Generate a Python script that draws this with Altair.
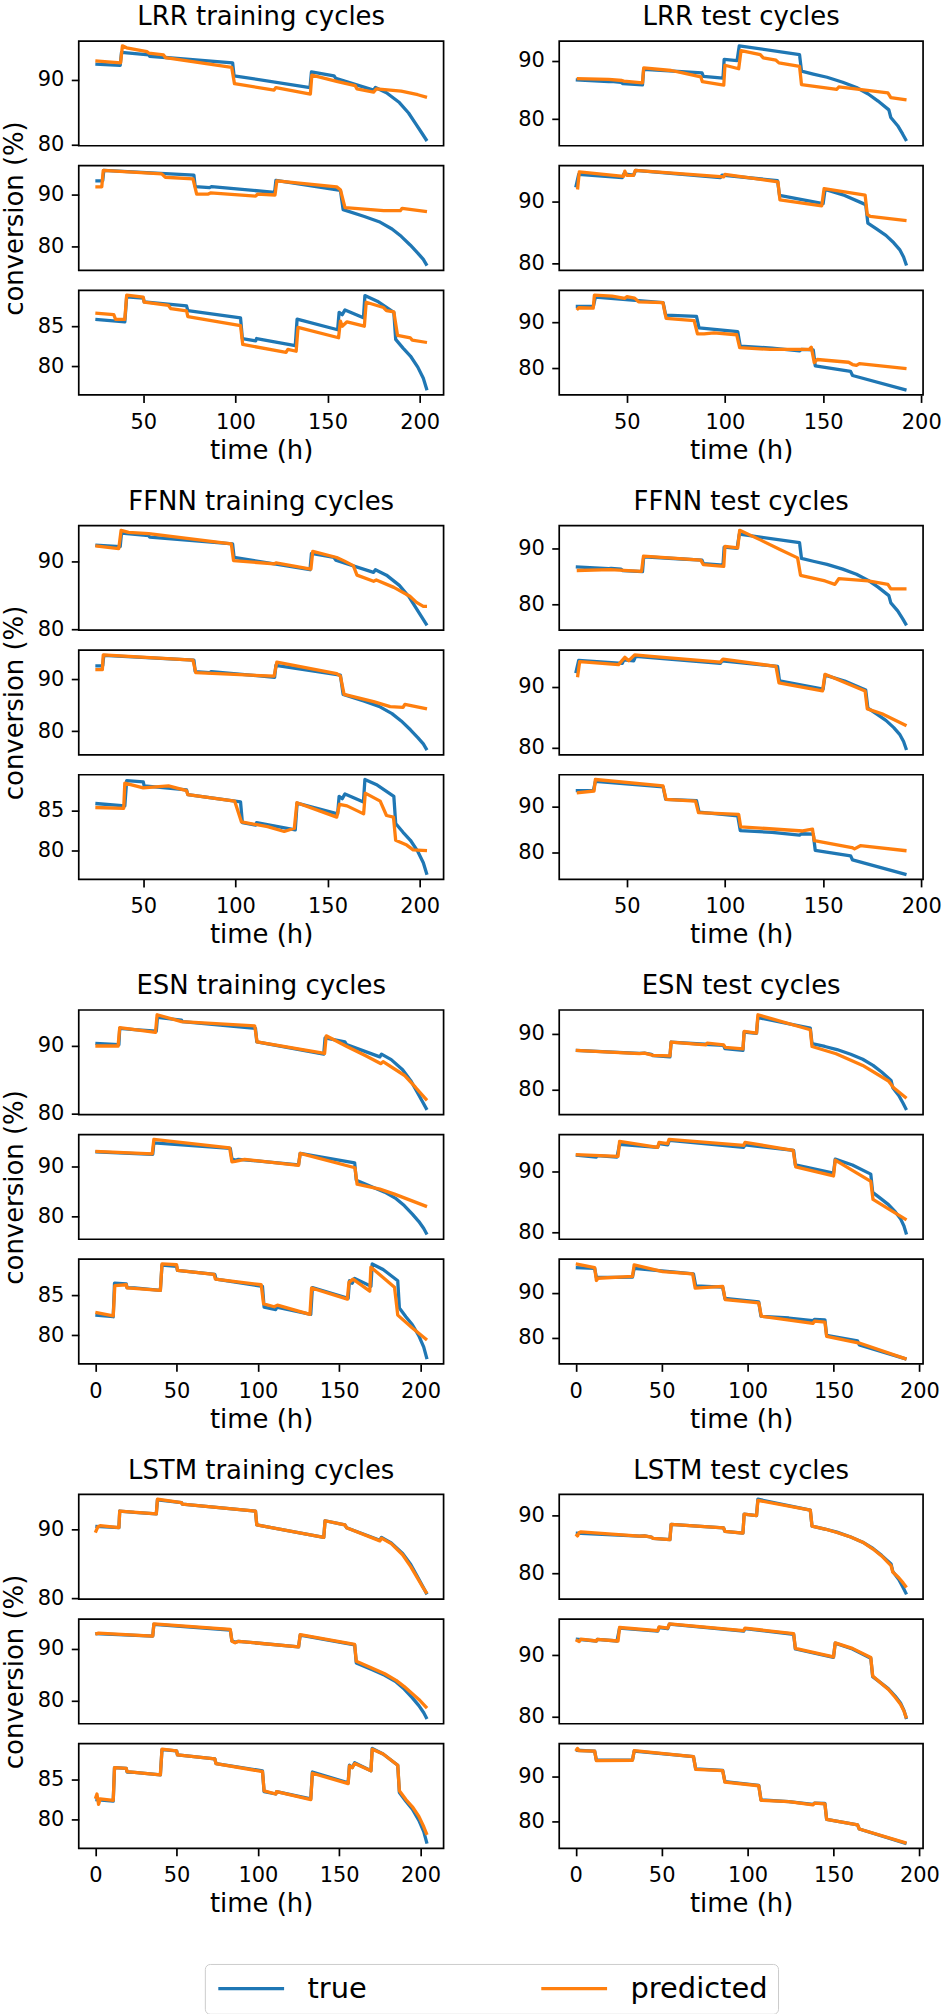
import altair as alt
import pandas as pd

BLUE = "#1f77b4"
ORANGE = "#ff7f0e"
FONT = "DejaVu Sans"

# ---------------- true conversion curves (time h, conversion %) ----------------
train1_true_t = [0, 14.5, 15, 24, 37.5, 38.2, 53, 53.5, 98.5, 99.3, 140.5, 141.3, 153.5, 154.5, 175, 176, 182, 189, 194, 198, 201, 204]
train1_true_v = [90.4, 90.2, 92.6, 92.4, 92.2, 94.2, 93.8, 93.6, 92.6, 90.6, 88.8, 91.2, 90.6, 90.2, 88.4, 88.8, 88.0, 86.5, 84.9, 83.2, 81.9, 80.6]

train2_true_t = [0, 35.3, 36, 83, 84, 86, 88, 125, 126, 159.5, 160.5, 170, 178, 185, 190, 195, 199, 202, 204]
train2_true_v = [93.0, 92.5, 94.8, 93.7, 91.6, 91.3, 91.5, 90.4, 92.7, 90.8, 87.3, 86.0, 84.9, 83.6, 82.2, 80.5, 79.0, 77.6, 76.4]

train2_true_late_t = [24, 28, 28.6, 77.5, 78.2, 86, 87, 121.3, 122, 157, 158.5, 170, 178, 185, 190, 195, 199, 202, 204]
train2_true_late_v = [92.6, 92.6, 94.6, 93.7, 91.5, 91.3, 91.5, 90.4, 92.7, 90.8, 87.1, 85.8, 84.8, 83.4, 82.0, 80.3, 78.8, 77.6, 76.4]

train3_true_t = [0, 11, 11.8, 19, 19.5, 24, 40, 41, 50, 50.5, 73.5, 74.2, 102.8, 103.8, 111, 111.5, 132.5, 133.5, 155.5, 156.3, 158, 159.5, 169.5, 170.3, 177, 186, 187, 191, 195, 199, 202, 204]
train3_true_v = [82.5, 82.3, 86.5, 86.4, 85.95, 85.9, 85.6, 88.75, 88.6, 88.1, 87.6, 87.0, 86.1, 83.5, 83.2, 83.5, 82.6, 85.95, 84.6, 86.8, 86.5, 87.1, 86.1, 88.9, 88.2, 86.8, 83.4, 82.3, 81.3, 79.9, 78.5, 77.0]

test1_true_t = [0, 37, 40, 44, 45, 54.8, 55.5, 75, 86, 86.8, 97.3, 98, 105.2, 106, 136.5, 137.5, 145, 152, 160, 167, 173, 178, 183.5, 184.5, 188, 190.5, 192.5]
test1_true_v = [87.0, 86.45, 86.5, 86.3, 86.05, 85.85, 88.5, 88.1, 87.9, 87.3, 87.0, 90.3, 90.05, 92.9, 91.0, 88.2, 87.7, 87.15, 86.3, 85.4, 84.3, 83.1, 81.6, 80.3, 78.9, 77.5, 76.3]

test1_true_late_t = [24, 40.8, 42, 47, 48, 58, 58.6, 78, 88.3, 89, 99, 99.6, 106.2, 107.3, 138, 139, 145, 152, 160, 167, 173, 178, 183.5, 184.5, 188, 190.5, 192.5]
test1_true_late_v = [86.7, 86.4, 86.45, 86.3, 86.05, 85.85, 88.5, 88.1, 87.9, 87.3, 87.0, 90.2, 90.0, 92.5, 91.0, 88.2, 87.7, 87.15, 86.3, 85.4, 84.3, 83.1, 81.6, 80.3, 78.9, 77.5, 76.3]

test2_true_t = [0, 12, 12.5, 24, 25.5, 47.7, 48.5, 53.5, 54.5, 97.7, 98.5, 126.8, 127.8, 150, 151, 161, 171.7, 172.8, 177, 182, 186, 189, 191, 192.5]
test2_true_v = [92.6, 92.3, 92.55, 92.3, 94.4, 93.9, 94.5, 94.3, 95.05, 93.9, 94.3, 93.4, 91.0, 89.65, 91.95, 91.0, 89.5, 86.5, 85.6, 84.5, 83.3, 82.2, 81.0, 79.6]

test3_true_t = [0, 11, 12, 24, 33, 34, 68.5, 69.8, 85.5, 86.8, 106.5, 107.8, 124, 138, 139, 145, 146, 164, 165, 192.5]
test3_true_v = [95.7, 95.5, 93.5, 93.5, 93.55, 95.5, 94.3, 91.6, 91.3, 88.8, 88.0, 84.8, 84.4, 83.8, 84.1, 84.0, 80.5, 79.3, 78.4, 75.2]

# ---------------- predicted curves ----------------
lrr_train1_t = [24, 37.7, 38.7, 41, 52, 53, 61, 62, 98, 99.5, 121, 122, 140.7, 141.5, 155.5, 165, 166, 175, 176.5, 190, 199, 204]
lrr_train1_v = [92.9, 92.6, 95.2, 94.9, 94.3, 94.1, 93.8, 93.4, 91.9, 89.4, 88.4, 88.8, 87.8, 90.7, 89.7, 89.1, 88.6, 88.1, 88.6, 88.25, 87.7, 87.3]
lrr_train2_t = [24, 27.5, 28.3, 60, 62, 77, 79, 85, 86.5, 111, 112, 121.5, 122.5, 155, 157, 159.5, 170, 180.5, 189.5, 190.5, 204]
lrr_train2_v = [91.45, 91.45, 94.6, 93.95, 93.3, 93.0, 90.05, 90.05, 90.3, 89.7, 90.05, 89.9, 92.6, 91.45, 90.9, 87.5, 87.2, 86.9, 86.9, 87.35, 86.7]
lrr_train3_t = [24, 34, 35, 40, 41, 50, 50.5, 63.7, 65, 73.5, 74.2, 102.8, 104, 127.5, 128.5, 133, 134, 156, 157, 158, 160.6, 170, 171, 180.4, 182, 186, 188, 195, 196, 204]
lrr_train3_v = [86.7, 86.5, 85.9, 85.9, 88.97, 88.7, 88.07, 87.66, 87.25, 86.97, 86.27, 85.12, 82.75, 81.76, 82.13, 81.9, 84.9, 83.6, 85.7, 85.05, 85.6, 85.05, 88.07, 87.4, 87.0, 86.85, 83.9, 83.57, 83.3, 83.0]
lrr_test1_t = [24.5, 40.8, 47.5, 48.5, 58, 58.6, 72.6, 78.5, 87.7, 88.5, 99.4, 100, 107, 108.2, 118, 119.5, 126, 127.5, 138, 139, 157, 158, 183, 184.5, 192.5]
lrr_test1_v = [86.9, 86.8, 86.6, 86.5, 86.2, 88.75, 88.3, 87.9, 87.2, 86.4, 85.8, 89.2, 88.6, 91.7, 91.0, 90.45, 90.05, 89.6, 89.0, 85.9, 85.1, 85.5, 84.5, 83.7, 83.3]
lrr_test2_t = [24.9, 25.8, 48.3, 49, 50, 53.4, 54.3, 99.4, 100, 127, 128, 149.3, 150.5, 171.4, 172.5, 174, 192.5]
lrr_test2_v = [91.95, 94.8, 94.1, 94.95, 94.25, 94.25, 95.05, 94.0, 94.4, 93.2, 90.27, 89.3, 92.1, 91.06, 87.9, 87.6, 86.9]
lrr_test3_t = [24.5, 25.5, 32.9, 33.5, 42.5, 49, 50, 54, 56, 68.4, 70, 84.3, 86, 89.4, 94.4, 106, 107.5, 123, 143, 144, 145.5, 147, 163, 165, 167, 168.5, 192.5]
lrr_test3_v = [92.7, 93.2, 93.1, 95.97, 95.75, 95.25, 95.6, 95.3, 94.5, 94.3, 90.9, 90.4, 87.5, 87.5, 87.7, 87.3, 84.5, 84.1, 84.1, 84.6, 81.2, 81.9, 81.3, 80.8, 80.6, 81.0, 79.9]

ffnn_train1_t = [24, 36.7, 38, 42, 53, 97.8, 99, 121, 122, 141, 142, 155, 159, 164, 166, 175, 176.5, 186, 194.7, 198.3, 202, 204]
ffnn_train1_v = [92.3, 91.9, 94.6, 94.3, 94.1, 92.6, 90.15, 89.65, 89.8, 88.9, 91.5, 90.6, 90.1, 89.4, 88.0, 87.1, 87.3, 86.2, 84.9, 84.0, 83.4, 83.4]
ffnn_train2_t = [24, 27.8, 28.3, 77, 78.5, 121, 122.5, 155, 157, 159, 175, 184, 191, 192, 204]
ffnn_train2_v = [91.85, 91.85, 94.7, 93.7, 91.3, 90.6, 93.3, 91.1, 90.6, 87.1, 85.7, 84.75, 84.6, 85.2, 84.3]
ffnn_train3_t = [24, 39.4, 40, 50, 63.7, 73.5, 74.2, 99.6, 103.3, 117.5, 126.5, 132, 133.4, 155, 156.5, 160.6, 169.6, 170.5, 178.6, 182, 185.8, 187, 193, 196.5, 204]
ffnn_train3_v = [85.4, 85.3, 88.45, 87.85, 88.1, 87.5, 87.0, 86.2, 83.6, 83.0, 82.4, 82.8, 86.0, 84.2, 85.8, 85.6, 84.6, 87.2, 86.2, 84.4, 84.2, 81.3, 80.7, 80.1, 80.0]
ffnn_test1_t = [24.5, 41.6, 57.5, 58.5, 87.7, 89, 99.4, 100, 106.5, 107.5, 118, 128, 137, 138.5, 151, 156, 158, 173, 183, 184.5, 192.5]
ffnn_test1_v = [86.06, 86.2, 85.9, 88.6, 87.9, 87.1, 86.8, 90.35, 90.06, 93.2, 91.5, 89.8, 88.3, 85.2, 84.2, 83.6, 84.6, 84.2, 83.6, 82.8, 82.8]
ffnn_test2_t = [24.9, 26, 45.8, 49, 51, 54, 62.5, 97.7, 99, 126, 127.5, 149.7, 151, 171.4, 172.5, 180, 192.5]
ffnn_test2_v = [91.6, 94.2, 93.7, 94.9, 94.35, 95.3, 95.05, 94.1, 94.6, 93.4, 90.7, 89.35, 92.1, 89.35, 86.4, 85.6, 83.6]
ffnn_test3_t = [24.5, 33.3, 34, 68.4, 70, 85, 86.5, 107, 108, 139.6, 144.6, 145.5, 164.7, 166, 169, 192.5]
ffnn_test3_v = [93.0, 93.4, 95.9, 94.5, 91.6, 91.2, 88.7, 88.3, 85.6, 84.7, 85.1, 82.6, 81.1, 80.8, 81.5, 80.4]

esn_train1_t = [0, 14, 15, 37, 38, 53, 98, 99.5, 141, 142, 155, 166, 175.7, 177, 190, 197, 204]
esn_train1_v = [90.0, 90.0, 92.7, 92.0, 94.6, 93.6, 92.97, 90.6, 88.9, 91.5, 89.9, 88.6, 87.4, 87.7, 85.7, 83.9, 82.0]
esn_train2_t = [0, 35, 36, 82.6, 84, 86, 91.8, 125, 126, 159.7, 161, 175, 184, 204]
esn_train2_v = [93.1, 92.6, 95.5, 93.8, 91.0, 91.1, 91.5, 90.3, 92.7, 89.8, 86.5, 85.5, 84.5, 82.0]
esn_train3_t = [0, 11, 12, 19, 19.5, 40, 41, 50, 50.5, 73, 73.8, 102, 103.5, 110, 112, 132, 133, 155, 156, 158.5, 168.8, 169.5, 184, 186, 195, 204]
esn_train3_v = [82.85, 82.4, 86.2, 86.3, 85.9, 85.6, 88.9, 88.8, 88.1, 87.6, 87.0, 86.3, 83.9, 83.55, 83.75, 82.6, 85.9, 84.5, 86.6, 87.0, 85.5, 88.5, 86.0, 82.5, 80.9, 79.4]
esn_test1_t = [0, 37, 40, 45, 54.8, 55.5, 75.6, 76.5, 86, 87, 97.3, 98, 105.2, 106, 136.5, 137.5, 151.5, 167, 182, 185, 192.5]
esn_test1_v = [87.0, 86.4, 86.5, 86.1, 86.0, 88.5, 88.0, 88.3, 88.0, 87.55, 87.26, 90.4, 90.1, 93.4, 90.7, 87.7, 86.4, 84.3, 81.5, 80.3, 78.4]
esn_test2_t = [0, 24.6, 25.5, 47.7, 48.5, 53.5, 54.3, 97.7, 98.5, 126.5, 128, 150, 151, 171.7, 173, 182, 192.5]
esn_test2_v = [92.7, 92.4, 94.85, 93.9, 94.7, 94.5, 95.2, 94.2, 94.7, 93.4, 90.7, 89.2, 91.8, 88.3, 85.35, 83.8, 82.0]
esn_test3_t = [0, 11, 12, 13, 33, 34, 50.6, 68, 69.5, 85.5, 87, 106.5, 108, 138, 139, 145, 146, 165, 192.5]
esn_test3_v = [96.5, 95.7, 92.8, 93.3, 93.7, 96.3, 94.8, 94.3, 91.1, 91.5, 88.5, 87.8, 84.8, 83.2, 83.7, 83.5, 80.3, 78.8, 75.2]

lstm_train1_t = [0, 1.5, 3, 14.5, 15, 37.5, 38.2, 53, 53.5, 98.5, 99.3, 140.5, 141.3, 153.5, 154.5, 175, 176, 182, 189, 194, 198, 201, 204]
lstm_train1_v = [89.5, 90.3, 90.5, 90.2, 92.6, 92.2, 94.3, 93.8, 93.6, 92.6, 90.6, 88.8, 91.2, 90.6, 90.2, 88.3, 88.7, 87.9, 86.3, 84.6, 83.0, 81.8, 80.7]
lstm_train2_t = [0, 2, 35.3, 36, 83, 84, 86, 88, 125, 126, 159.5, 160.5, 170, 178, 185, 190, 195, 199, 202, 204]
lstm_train2_v = [92.9, 93.1, 92.5, 94.9, 93.8, 91.5, 91.2, 91.5, 90.4, 92.8, 90.9, 87.6, 86.3, 85.2, 83.9, 82.7, 81.3, 80.2, 79.2, 78.5]
lstm_train3_t = [0, 1, 2, 3, 11, 11.8, 19, 19.5, 40, 41, 50, 50.5, 73.5, 74.2, 102.8, 103.8, 111, 111.5, 132.5, 133.5, 155.5, 156.3, 158, 159.5, 169.5, 170.3, 177, 186, 187, 191, 195, 199, 202, 204]
lstm_train3_v = [82.6, 83.2, 81.9, 82.6, 82.4, 86.5, 86.4, 86.0, 85.6, 88.8, 88.6, 88.1, 87.6, 87.0, 86.0, 83.6, 83.2, 83.5, 82.5, 85.8, 84.5, 86.7, 86.5, 87.0, 86.1, 88.8, 88.2, 86.8, 83.6, 82.5, 81.6, 80.4, 79.1, 78.1]
lstm_test1_t = [0, 1, 2, 3, 37, 40, 44, 45, 54.8, 55.5, 75, 86, 86.8, 97.3, 98, 105.2, 106, 136.5, 137.5, 145, 152, 160, 167, 173, 178, 183.5, 184.5, 188, 190.5, 192.5]
lstm_test1_v = [86.8, 86.5, 87.1, 87.2, 86.45, 86.5, 86.3, 86.05, 85.85, 88.5, 88.1, 87.9, 87.3, 87.0, 90.3, 90.05, 92.7, 91.0, 88.2, 87.7, 87.1, 86.3, 85.4, 84.2, 83.0, 81.3, 80.2, 79.2, 78.3, 77.5]
lstm_test2_t = [0, 2, 3, 12, 12.5, 24.6, 25.5, 47.7, 48.5, 53.5, 54.5, 97.7, 98.5, 126.8, 127.8, 150, 151, 161, 171.7, 172.8, 177, 182, 186, 189, 191, 192.5]
lstm_test2_v = [92.5, 92.2, 92.6, 92.3, 92.55, 92.3, 94.5, 94.0, 94.6, 94.4, 95.1, 94.0, 94.4, 93.5, 91.1, 89.7, 92.0, 91.1, 89.6, 86.6, 85.6, 84.4, 83.1, 82.0, 80.9, 79.7]
lstm_test3_t = [0, 1, 2, 11, 12, 33, 34, 68.5, 69.8, 85.5, 86.8, 106.5, 107.8, 124, 138, 139, 145, 146, 164, 165, 192.5]
lstm_test3_v = [95.5, 96.1, 95.6, 95.5, 93.4, 93.5, 95.6, 94.3, 91.5, 91.2, 88.7, 87.9, 84.7, 84.4, 83.7, 84.1, 83.9, 80.5, 79.3, 78.4, 75.3]

# ---------------- labels / ticks ----------------
models = ["LRR", "FFNN", "ESN", "LSTM"]
series_names = ["true", "predicted"]
late_start = 24  # LRR / FFNN predictions begin after the input window
yticks_train = [[80, 90], [80, 90], [80, 85]]
yticks_test = [[80, 90], [80, 90], [80, 90]]
xticks_late = [50, 100, 150, 200]
xticks_full = [0, 50, 100, 150, 200]

pred = {
    ("LRR", "train"): [(lrr_train1_t, lrr_train1_v), (lrr_train2_t, lrr_train2_v), (lrr_train3_t, lrr_train3_v)],
    ("LRR", "test"): [(lrr_test1_t, lrr_test1_v), (lrr_test2_t, lrr_test2_v), (lrr_test3_t, lrr_test3_v)],
    ("FFNN", "train"): [(ffnn_train1_t, ffnn_train1_v), (ffnn_train2_t, ffnn_train2_v), (ffnn_train3_t, ffnn_train3_v)],
    ("FFNN", "test"): [(ffnn_test1_t, ffnn_test1_v), (ffnn_test2_t, ffnn_test2_v), (ffnn_test3_t, ffnn_test3_v)],
    ("ESN", "train"): [(esn_train1_t, esn_train1_v), (esn_train2_t, esn_train2_v), (esn_train3_t, esn_train3_v)],
    ("ESN", "test"): [(esn_test1_t, esn_test1_v), (esn_test2_t, esn_test2_v), (esn_test3_t, esn_test3_v)],
    ("LSTM", "train"): [(lstm_train1_t, lstm_train1_v), (lstm_train2_t, lstm_train2_v), (lstm_train3_t, lstm_train3_v)],
    ("LSTM", "test"): [(lstm_test1_t, lstm_test1_v), (lstm_test2_t, lstm_test2_v), (lstm_test3_t, lstm_test3_v)],
}
true_full = {
    "train": [(train1_true_t, train1_true_v), (train2_true_t, train2_true_v), (train3_true_t, train3_true_v)],
    "test": [(test1_true_t, test1_true_v), (test2_true_t, test2_true_v), (test3_true_t, test3_true_v)],
}
true_late = {
    "train": [(train1_true_t, train1_true_v), (train2_true_late_t, train2_true_late_v), (train3_true_t, train3_true_v)],
    "test": [(test1_true_late_t, test1_true_late_v), (test2_true_t, test2_true_v), (test3_true_t, test3_true_v)],
}

LEFT_W, RIGHT_W, PANEL_H = 366, 365, 105

legend = alt.Legend(
    orient="none", legendX=126.5, legendY=1929, direction="horizontal", columns=2,
    title=None, symbolType="M-1,0H5", symbolSize=484, symbolStrokeWidth=3.3,
    labelFontSize=29, labelFont=FONT, labelColor="black", labelOffset=64,
    columnPadding=167, padding=10, strokeColor="#cccccc", fillColor="white",
    cornerRadius=5, labelLimit=400,
)
color = alt.Color(
    "series:N",
    scale=alt.Scale(domain=series_names, range=[BLUE, ORANGE]),
    legend=legend,
)


def panel(tt, tv, pt, pv, yticks, xticks, width, title=None, bottom=False, ylabel=False):
    df = pd.DataFrame({
        "t": list(tt) + list(pt),
        "v": list(tv) + list(pv),
        "series": ["true"] * len(tt) + ["predicted"] * len(pt),
        "i": list(range(len(tt))) + list(range(len(pt))),
    })
    tmin, tmax = df["t"].min(), df["t"].max()
    vmin, vmax = df["v"].min(), df["v"].max()
    tp, vp = 0.05 * (tmax - tmin), 0.05 * (vmax - vmin)
    if bottom:
        xaxis = alt.Axis(values=xticks, format="d", title="time (h)", labelPadding=9, titlePadding=5)
    else:
        xaxis = None
    yaxis = alt.Axis(values=yticks, format="d", title="conversion (%)" if ylabel else None,
                     labelPadding=7.5, titlePadding=10)
    base = alt.Chart(df).mark_line(strokeWidth=3.3, strokeJoin="round").encode(
        x=alt.X("t:Q", scale=alt.Scale(domain=[tmin - tp, tmax + tp], nice=False, zero=False), axis=xaxis),
        y=alt.Y("v:Q", scale=alt.Scale(domain=[vmin - vp, vmax + vp], nice=False, zero=False), axis=yaxis),
        color=color,
        order="i:Q",
    )
    ch = alt.layer(
        base.transform_filter("datum.series == 'true'"),
        base.transform_filter("datum.series == 'predicted'"),
    ).properties(width=width, height=PANEL_H)
    if title:
        ch = ch.properties(title=alt.Title(title, offset=-10, baseline="alphabetic"))
    return ch


def spacer(width):
    return alt.Chart(pd.DataFrame({"t": [0.0]})).mark_point(opacity=0).encode(
        x=alt.X("t:Q", axis=None), y=alt.Y("t:Q", axis=None)
    ).properties(width=width, height=91, view=alt.ViewBackground(strokeOpacity=0))


cells = []
for mi, m in enumerate(models):
    late = m in ("LRR", "FFNN")
    xt = xticks_late if late else xticks_full
    for k in range(3):
        for split, width, yt in (("train", LEFT_W, yticks_train), ("test", RIGHT_W, yticks_test)):
            src = true_late if late else true_full
            tt, tv = src[split][k]
            if late:
                keep = [j for j, x in enumerate(tt) if x >= late_start]
                tt = [tt[j] for j in keep]
                tv = [tv[j] for j in keep]
            pt, pv = pred[(m, split)][k]
            title = None
            if k == 0:
                title = f"{m} training cycles" if split == "train" else f"{m} test cycles"
            cells.append(panel(tt, tv, pt, pv, yt[k], xt, width, title=title,
                               bottom=(k == 2), ylabel=(split == "train" and k == 1)))
    if mi < len(models) - 1:
        cells.append(spacer(LEFT_W))
        cells.append(spacer(RIGHT_W))

chart = alt.concat(*cells, columns=2, spacing={"row": 20, "column": 116}, bounds="flush").properties(
    padding={"left": 0, "top": 0, "right": 0, "bottom": 0}, background="white"
).configure_view(
    stroke="black", strokeWidth=1.7
).configure_axis(
    grid=False, domain=False, labelFont=FONT, labelFontSize=21, labelColor="black",
    tickColor="black", tickWidth=1.7, tickSize=7.5, titleFont=FONT, titleFontSize=26,
    titleFontWeight="normal", titleColor="black",
).configure_title(
    font=FONT, fontSize=26, fontWeight="normal", color="black", anchor="middle", frame="group",
)

chart.save("out.html", embed_options={"renderer": "svg", "actions": False})
